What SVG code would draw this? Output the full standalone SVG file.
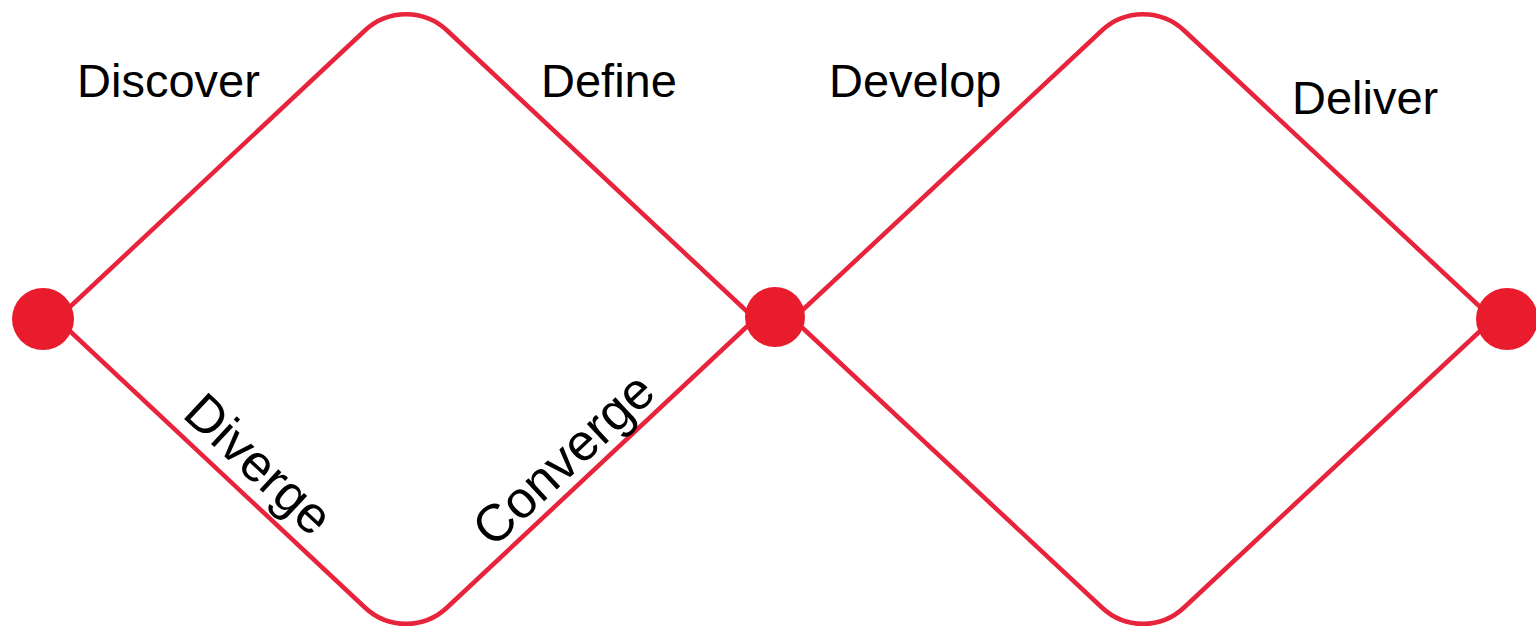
<svg xmlns="http://www.w3.org/2000/svg" width="1536" height="631" viewBox="0 0 1536 631">
<style>
.edge{fill:none;stroke:#e8243c;stroke-width:4.5;stroke-linejoin:round}
.dot{fill:#e81c2c}
.lbl{font-family:"Liberation Sans",Arial,sans-serif;font-size:47px;fill:#000}
.rot{font-size:52px}
</style>
<rect width="1536" height="631" fill="#fff"/>
<g id="connectors">
<path id="diamond-left" class="edge" d="M57,319 L364.9,30.5 A60,60 0 0 1 447.1,30.5 L755,319 L447.1,607.5 A60,60 0 0 1 364.9,607.5 Z"/>
<path id="diamond-right" class="edge" d="M793,319 L1101.9,30.5 A60,60 0 0 1 1184.1,30.5 L1493,319 L1184.1,607.5 A60,60 0 0 1 1101.9,607.5 Z"/>
</g>
<g id="node-start"><circle class="dot" cx="43" cy="319" r="31"/></g>
<g id="node-middle"><circle class="dot" cx="775" cy="317" r="30"/></g>
<g id="node-end"><circle class="dot" cx="1507" cy="319" r="31"/></g>
<g id="labels">
<text class="lbl" x="77" y="97">Discover</text>
<text class="lbl" x="541" y="97">Define</text>
<text class="lbl" x="829" y="97">Develop</text>
<text class="lbl" x="1292" y="114">Deliver</text>
<text class="lbl rot" transform="translate(181,416) rotate(43)">Diverge</text>
<text class="lbl rot" transform="translate(493,549) rotate(-43)">Converge</text>
</g>
</svg>
